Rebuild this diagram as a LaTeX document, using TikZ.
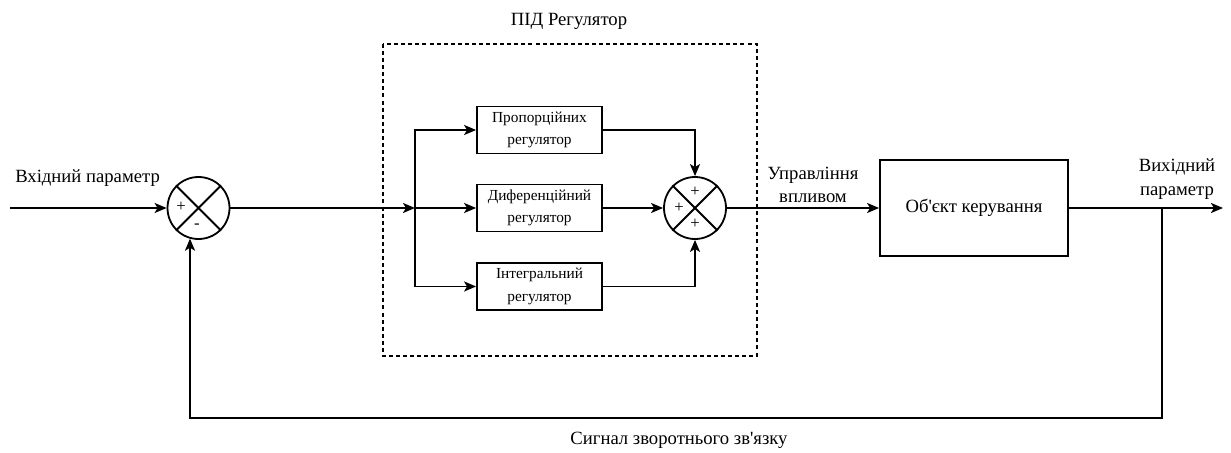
\documentclass[tikz,border=0pt]{standalone}
\usepackage{fontspec}
\setmainfont{Liberation Serif}
\usetikzlibrary{arrows.meta,calc}
\tikzset{
  wire/.style={line width=1.35pt,draw=black},
  arr/.style={wire,-{Stealth[length=9pt,width=7.5pt,inset=2.2pt]}},
  sumnode/.style={circle,draw=black,line width=1.35pt,minimum size=46.5pt,inner sep=0pt},
  regbox/.style={rectangle,draw=black,line width=1.35pt,minimum width=93.75pt,minimum height=35.25pt,inner sep=1pt,align=center,font=\fontsize{11.5}{17}\selectfont},
  plantbox/.style={rectangle,draw=black,line width=1.35pt,minimum width=141pt,minimum height=72pt,align=center,font=\fontsize{14}{17}\selectfont},
  lbl/.style={align=center,font=\fontsize{14}{17.5}\selectfont,inner sep=0pt},
  sign/.style={font=\fontsize{12.5}{12.5}\selectfont,inner sep=0pt},
}
\begin{document}
\begin{tikzpicture}[x=0.75pt,y=-0.75pt]
\useasboundingbox (0,0) rectangle (1231,453);

% PID controller frame
\draw[line width=1.1pt,dash pattern=on 3pt off 2.3pt] (383,44) rectangle (757,356);
\node[lbl] (pidtitle) at (569,21) {ПІД Регулятор};

% summing junctions
\node[sumnode] (s1) at (198.5,208) {};
\draw[wire] (s1.45) -- (s1.225) (s1.135) -- (s1.315);
\node[sign] (s1p) at (181,207) {+};
\node[sign] (s1m) at (197,226) {-};

\node[sumnode] (s2) at (695,208) {};
\draw[wire] (s2.45) -- (s2.225) (s2.135) -- (s2.315);
\node[sign] (s2t) at (695,192) {+};
\node[sign] (s2l) at (679,208) {+};
\node[sign] (s2b) at (695,224) {+};

% controller branches
\node[regbox] (prop) at (539.5,130) {Пропорційних\\регулятор};
\node[regbox] (diff) at (539.5,208) {Диференційний\\регулятор};
\node[regbox] (intg) at (539.5,286.5) {Інтегральний\\регулятор};

% plant
\node[plantbox] (plant) at (974,208) {Об\textquotesingle єкт керування};

% free ends and junctions
\coordinate (in) at (10,208);
\coordinate (j) at (415,208);
\coordinate (out) at (1223,208);
\coordinate (fb) at (1162,208);
\coordinate (fbl) at (190,418);

% signal lines
\draw[arr] (in) -- (s1.west);
\draw[arr] (s1.east) -- (j);
\draw[arr] (j) -- (diff.west);
\draw[arr] (j) |- (prop.west);
\draw[arr] (j) |- (intg.west);
\draw[arr] (prop.east) -| (s2.north);
\draw[arr] (diff.east) -- (s2.west);
\draw[arr] (intg.east) -| (s2.south);
\draw[arr] (s2.east) -- (plant.west);
\draw[arr] (plant.east) -- (out);
\draw[arr] (fb) |- (fbl) -- (fbl |- s1.-106);

% labels
\node[lbl,anchor=west] (inlbl) at (15,178) {Вхідний параметр};
\node[lbl] (ulbl) at (813,185) {Управління\\впливом};
\node[lbl] (outlbl) at (1177,179) {Вихідний\\параметр};
\node[lbl] (fblbl) at (679,440) {Сигнал зворотнього зв\textquotesingle язку};
\end{tikzpicture}
\end{document}
